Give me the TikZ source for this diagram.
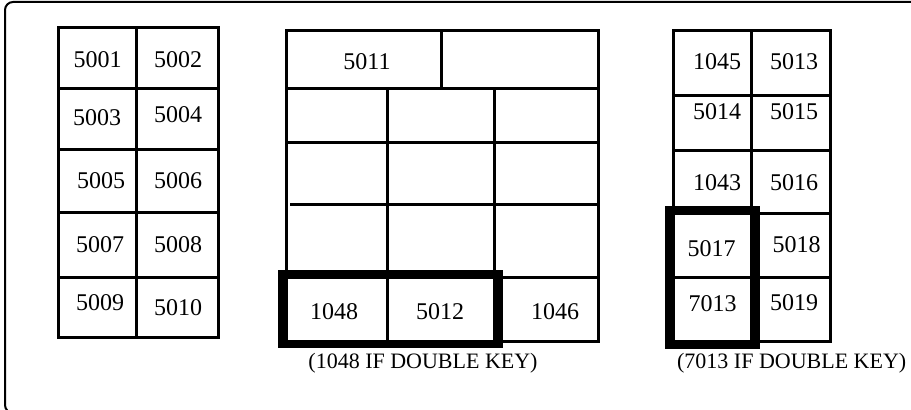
\documentclass[tikz,border=0pt]{standalone}
\usepackage{fontspec}
\setmainfont{Liberation Serif}
\begin{document}
\begin{tikzpicture}[x=0.5pt,y=-0.5pt,
    ln/.style={line width=1.5pt},
    keybox/.style={line width=3.5pt},
    lbl/.style={font=\fontsize{12}{14}\selectfont, inner sep=0pt},
    note/.style={font=\fontsize{11}{13}\selectfont, inner sep=0pt}]
    \useasboundingbox (0,0) rectangle (911,410);
    \draw[line width=1pt, rounded corners=4pt] (5,2) rectangle (922,413);

    \draw[ln] (58.7,28) rectangle (218,338);
    \draw[ln] (136.7,28) -- (136.7,338);
    \foreach \y in {89,150,213,278} {
        \draw[ln] (58.7,\y) -- (218,\y);
    }
    \foreach \t/\x/\y in {5001/97.5/60, 5002/178/60, 5003/97/118, 5004/178/115,
                          5005/101/181, 5006/178/181, 5007/100/245, 5008/178/245,
                          5009/100/303, 5010/178/308} {
        \node[lbl] (k\t) at (\x,\y) {\t};
    }

    \begin{scope}
        \draw[ln] (286,31) rectangle (598,342);
        \draw[ln] (441.7,31) -- (441.7,89);
        \draw[ln] (286,89) -- (598,89);
        \draw[ln] (286,142.7) -- (598,142.7);
        \draw[ln] (290,204.3) -- (598,204.3);
        \draw[ln] (286,277.7) -- (598,277.7);
        \draw[ln] (387.3,89) -- (387.3,342);
        \draw[ln] (494.3,89) -- (494.3,342);
        \draw[keybox] (281,274) rectangle (499,345);
        \foreach \t/\x/\y in {5011/367/61.7, 1048/334/311.7, 5012/440/311.7, 1046/555/311.7} {
            \node[lbl] (k\t) at (\x,\y) {\t};
        }
        \node[note] (dbl1048) at (423,363.5) {(1048 IF DOUBLE KEY)};
    \end{scope}

    \begin{scope}
        \draw[ln] (673.3,31) rectangle (830.7,341.7);
        \draw[ln] (751,31) -- (751,341.7);
        \foreach \y in {95.7,151,213.3,277.7} {
            \draw[ln] (673.3,\y) -- (830.7,\y);
        }
        \draw[keybox] (668.5,210) rectangle (756,346);
        \foreach \t/\x/\y in {1045/717/61.7, 5013/794/62, 5014/717/111.7, 5015/794/112,
                              1043/717/182.7, 5016/794/183, 5017/711.7/248.3, 5018/796.7/245,
                              7013/712.7/303.3, 5019/794/303} {
            \node[lbl] (k\t) at (\x,\y) {\t};
        }
        \node[note] (dbl7013) at (791.7,363.5) {(7013 IF DOUBLE KEY)};
    \end{scope}
\end{tikzpicture}
\end{document}
